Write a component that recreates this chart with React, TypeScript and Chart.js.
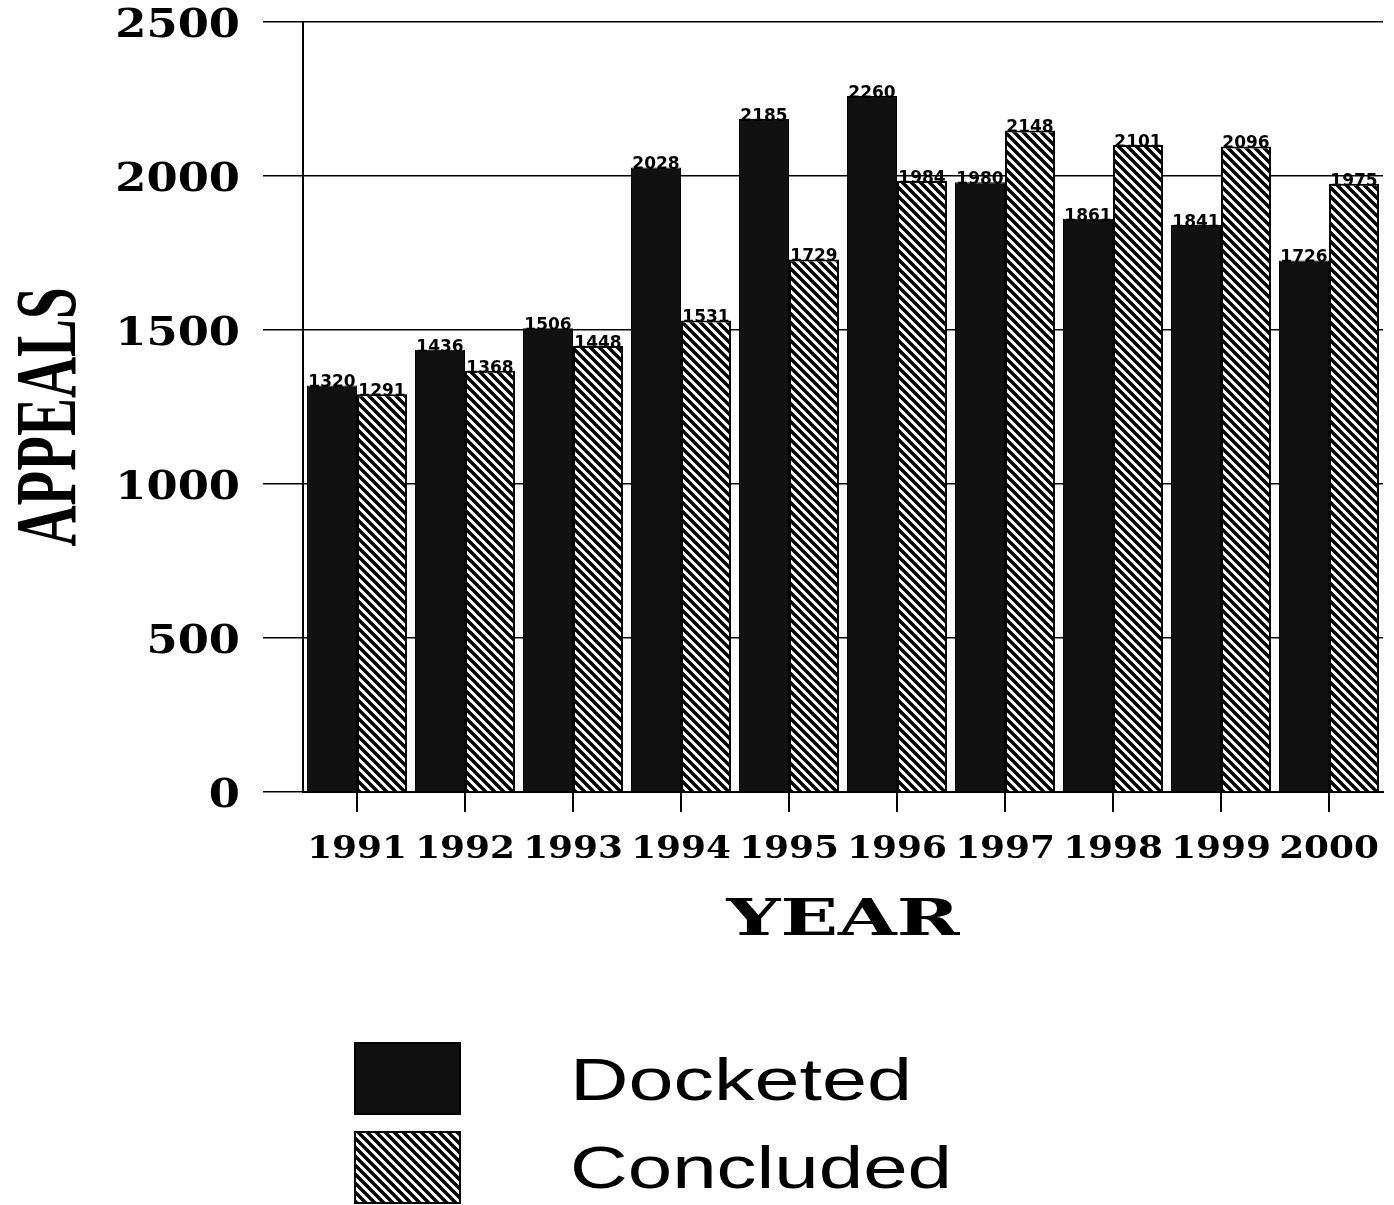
import React, { useEffect, useRef } from 'react';
import { Chart, registerables } from 'chart.js';

Chart.register(...registerables);

const YEARS = ['1991', '1992', '1993', '1994', '1995', '1996', '1997', '1998', '1999', '2000'];
const DOCKETED = [1320, 1436, 1506, 2028, 2185, 2260, 1980, 1861, 1841, 1726];
const CONCLUDED = [1291, 1368, 1448, 1531, 1729, 1984, 2148, 2101, 2096, 1975];
const SERIES_NAMES = ['Docketed', 'Concluded'];
const Y_MIN = 0;
const Y_MAX = 2500;
const Y_STEP = 500;
const X_TITLE = 'YEAR';
const Y_TITLE = 'APPEALS';

function makeHatch(ctx: CanvasRenderingContext2D): CanvasPattern | string {
  const s = 9;
  const c = document.createElement('canvas');
  c.width = s;
  c.height = s;
  const g = c.getContext('2d');
  if (!g) return '#888';
  g.fillStyle = '#fff';
  g.fillRect(0, 0, s, s);
  g.strokeStyle = '#000';
  g.lineWidth = 3.4;
  for (let k = -1; k <= 1; k++) {
    g.beginPath();
    g.moveTo(k * s - s, -s);
    g.lineTo(k * s + 2 * s, 2 * s);
    g.stroke();
  }
  return ctx.createPattern(c, 'repeat') || '#888';
}

function stretchText(ctx: CanvasRenderingContext2D, text: string, x: number, y: number, sx: number, align: CanvasTextAlign) {
  ctx.save();
  ctx.translate(x, y);
  ctx.scale(sx, 1);
  ctx.textAlign = align;
  ctx.fillText(text, 0, 0);
  ctx.restore();
}

function fitText(ctx: CanvasRenderingContext2D, text: string, x: number, y: number, targetW: number, align: CanvasTextAlign) {
  const w = ctx.measureText(text).width || 1;
  stretchText(ctx, text, x, y, targetW / w, align);
}

const decorPlugin = {
  id: 'decor',
  afterDatasetsDraw(chart: any) {
    const ctx: CanvasRenderingContext2D = chart.ctx;
    const xs = chart.scales.x;
    const ys = chart.scales.y;
    const area = chart.chartArea;
    ctx.save();
    ctx.fillStyle = '#000';

    // value labels above bars
    ctx.font = '700 17px "DejaVu Sans"';
    ctx.textBaseline = 'alphabetic';
    chart.data.datasets.forEach((ds: any, di: number) => {
      chart.getDatasetMeta(di).data.forEach((el: any, i: number) => {
        stretchText(ctx, String(ds.data[i]), el.x, el.y + 2, 1.0, 'center');
      });
    });

    // y tick labels
    ctx.font = '700 40px "DejaVu Serif"';
    ctx.textBaseline = 'middle';
    ys.ticks.forEach((t: any) => {
      const py = ys.getPixelForValue(t.value);
      stretchText(ctx, String(t.value), area.left - 63, py + 5, 1.12, 'right');
    });

    // x tick labels
    ctx.font = '700 32px "DejaVu Serif"';
    ctx.textBaseline = 'alphabetic';
    chart.data.labels.forEach((lab: string, i: number) => {
      stretchText(ctx, lab, xs.getPixelForTick(i), area.bottom + 66, 1.12, 'center');
    });

    // x title
    ctx.font = '700 51px "DejaVu Serif"';
    fitText(ctx, X_TITLE, 843, 935, 233, 'center');

    // y title (rotated)
    ctx.save();
    ctx.font = '700 86px "Liberation Serif"';
    ctx.translate(75, 417);
    ctx.rotate(-Math.PI / 2);
    fitText(ctx, Y_TITLE, 0, 0, 259, 'center');
    ctx.restore();

    // legend
    const boxes = [
      { top: 1043, textY: 1100, textW: 342 },
      { top: 1132, textY: 1188, textW: 382 },
    ];
    chart.data.datasets.forEach((ds: any, di: number) => {
      const b = boxes[di];
      ctx.fillStyle = ds.backgroundColor;
      ctx.fillRect(355, b.top, 105, 71);
      ctx.strokeStyle = '#000';
      ctx.lineWidth = 2;
      ctx.strokeRect(355, b.top, 105, 71);
      ctx.fillStyle = '#000';
      ctx.font = '400 59px "Liberation Sans"';
      fitText(ctx, ds.label, 570, b.textY, b.textW, 'left');
    });

    ctx.restore();
  },
};

export default function App() {
  const ref = useRef<HTMLCanvasElement | null>(null);

  useEffect(() => {
    document.body.style.margin = '0';
    const canvas = ref.current;
    if (!canvas) return;
    const ctx = canvas.getContext('2d');
    if (!ctx) return;
    const hatch = makeHatch(ctx);

    const chart = new Chart(canvas, {
      type: 'bar',
      data: {
        labels: YEARS,
        datasets: [
          {
            label: SERIES_NAMES[0],
            data: DOCKETED,
            backgroundColor: '#111111',
            borderColor: '#000',
            borderWidth: 1,
            categoryPercentage: 0.926,
            barPercentage: 1,
          },
          {
            label: SERIES_NAMES[1],
            data: CONCLUDED,
            backgroundColor: hatch as any,
            borderColor: '#000',
            borderWidth: 2,
            categoryPercentage: 0.926,
            barPercentage: 1,
          },
        ],
      },
      options: {
        responsive: false,
        animation: false,
        events: [],
        layout: { padding: { top: 22, right: 11, left: 0, bottom: 393 } },
        plugins: {
          legend: { display: false },
          tooltip: { enabled: false },
          title: { display: false },
        },
        scales: {
          x: {
            type: 'category',
            offset: true,
            grid: {
              display: true,
              drawOnChartArea: false,
              drawTicks: true,
              tickLength: 20,
              offset: false,
              color: '#000',
              lineWidth: 2,
            },
            border: { display: true, color: '#000', width: 2 },
            ticks: { display: false },
            afterFit: (scale: any) => {
              scale.height = 20;
            },
          },
          y: {
            min: Y_MIN,
            max: Y_MAX,
            ticks: { display: false, stepSize: Y_STEP },
            grid: {
              color: '#000',
              lineWidth: 1.5,
              drawTicks: true,
              tickLength: 40,
            },
            border: { display: true, color: '#000', width: 2 },
            afterFit: (scale: any) => {
              scale.width = 303;
            },
          },
        },
      },
      plugins: [decorPlugin],
    });

    return () => chart.destroy();
  }, []);

  return (
    <div style={{ width: 1394, height: 1205, background: '#fff' }}>
      <canvas ref={ref} width={1394} height={1205} style={{ display: 'block' }} />
    </div>
  );
}
